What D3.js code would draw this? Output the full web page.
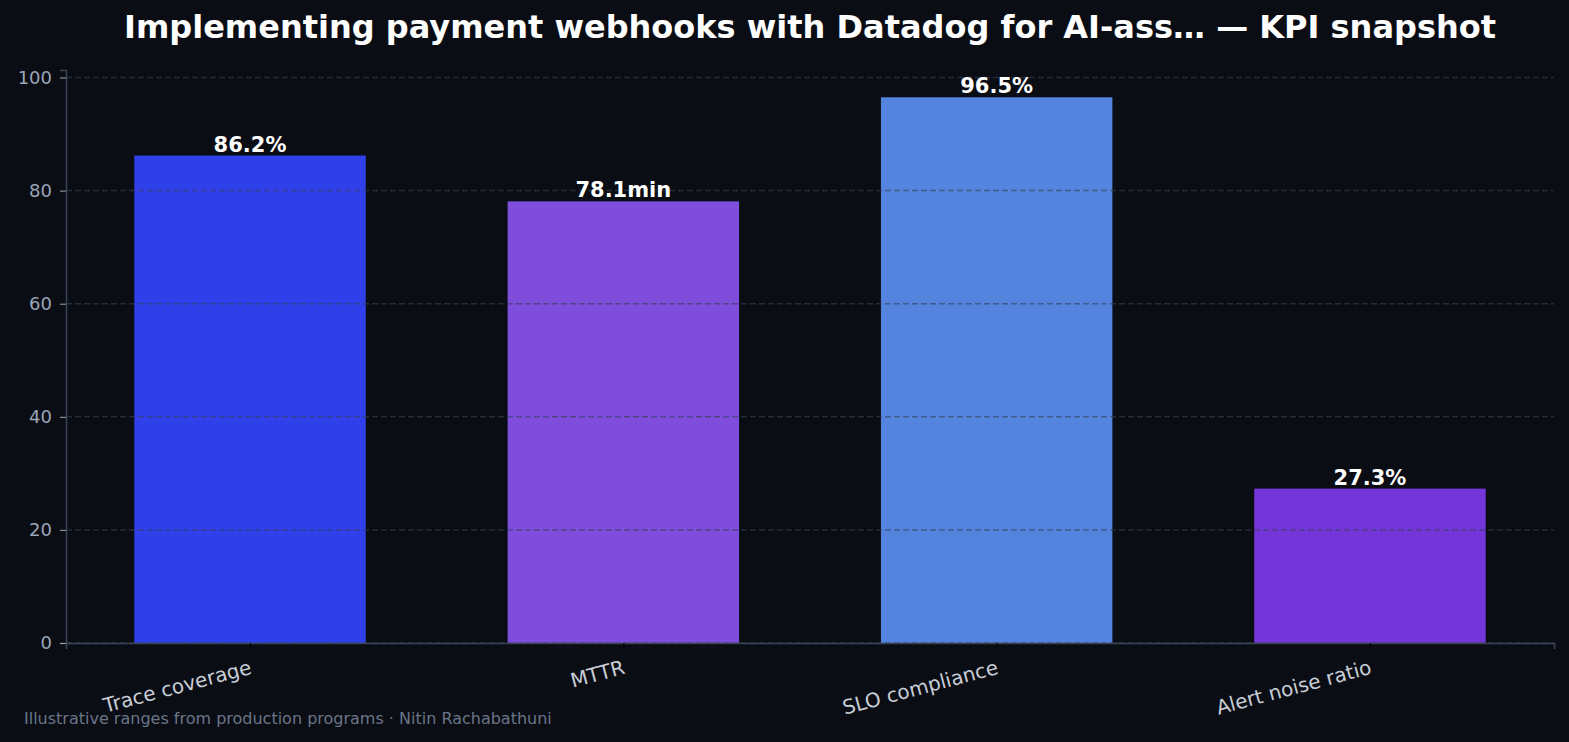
<!DOCTYPE html>
<html>
<head>
<meta charset="utf-8">
<script src="https://cdn.jsdelivr.net/npm/d3@7"></script>
<style>
  html, body { margin: 0; padding: 0; background: #0a0d14; }
  svg { display: block; font-family: "DejaVu Sans", sans-serif; }
</style>
</head>
<body>
<svg id="chart"></svg>
<script>
const categories = ['Trace coverage', 'MTTR', 'SLO compliance', 'Alert noise ratio'];
const values = [86.2, 78.1, 96.5, 27.3];
const valueLabels = ['86.2%', '78.1min', '96.5%', '27.3%'];
const barColors = ['#2f40eb', '#7e4ddb', '#5584df', '#7435d9'];
const yTicks = [0, 20, 40, 60, 80, 100];

const WIDTH = 1569;
const HEIGHT = 742;
const margin = { left: 66, right: 15, top: 70, bottom: 99 };

const svg = d3.select('#chart')
    .attr('width', WIDTH)
    .attr('height', HEIGHT);

svg.append('rect')
    .attr('width', WIDTH)
    .attr('height', HEIGHT)
    .attr('fill', '#0a0d14');

const x = d3.scaleLinear()
    .domain([-0.493, categories.length - 1 + 0.493])
    .range([margin.left, WIDTH - margin.right]);

const y = d3.scaleLinear()
    .domain([0, d3.max(values) * 1.05])
    .range([HEIGHT - margin.bottom, margin.top]);

const barWidth = 0.62;

// bars
svg.append('g')
    .selectAll('rect')
    .data(values)
    .join('rect')
    .attr('x', (d, i) => x(i - barWidth / 2))
    .attr('width', (d, i) => x(i + barWidth / 2) - x(i - barWidth / 2))
    .attr('y', d => y(d))
    .attr('height', d => y(0) - y(d))
    .attr('fill', (d, i) => barColors[i]);

// grid (drawn over the bars, semi-transparent)
svg.append('g')
    .selectAll('line')
    .data(yTicks)
    .join('line')
    .attr('x1', margin.left)
    .attr('x2', WIDTH - margin.right)
    .attr('y1', d => y(d))
    .attr('y2', d => y(d))
    .attr('stroke', '#334155')
    .attr('stroke-opacity', 0.6)
    .attr('stroke-width', 1.5)
    .attr('stroke-dasharray', '6,3');

// value labels
svg.append('g')
    .selectAll('text')
    .data(values)
    .join('text')
    .attr('x', (d, i) => x(i))
    .attr('y', d => y(d) - 4)
    .attr('text-anchor', 'middle')
    .attr('fill', '#ffffff')
    .attr('font-size', 21)
    .attr('font-weight', 'bold')
    .text((d, i) => valueLabels[i]);

// y axis
const yAxis = svg.append('g')
    .attr('transform', `translate(${margin.left},0)`)
    .call(d3.axisLeft(y).tickValues(yTicks).tickSize(6).tickPadding(8));
yAxis.select('.domain').attr('stroke', '#3a4556').attr('stroke-width', 1.5);
yAxis.selectAll('.tick line').attr('stroke', '#9aa5b8');
yAxis.selectAll('.tick text')
    .attr('fill', '#9aa5b8')
    .attr('font-size', 18)
    .attr('font-family', '"DejaVu Sans", sans-serif');

// x axis
const xAxis = svg.append('g')
    .attr('transform', `translate(0,${y(0)})`)
    .call(d3.axisBottom(x).tickValues(d3.range(categories.length)).tickSize(6).tickFormat(''));
xAxis.select('.domain').attr('stroke', '#3a4556').attr('stroke-width', 1.5);
xAxis.selectAll('.tick line').attr('stroke', '#000000');

xAxis.selectAll('.tick')
    .append('text')
    .attr('transform', 'translate(-2,15) rotate(-15)')
    .attr('text-anchor', 'end')
    .attr('dy', '0.8em')
    .attr('fill', '#c8cdd6')
    .attr('font-size', 20)
    .attr('font-family', '"DejaVu Sans", sans-serif')
    .text((d, i) => categories[i]);

// title
svg.append('text')
    .attr('x', 810)
    .attr('y', 38)
    .attr('text-anchor', 'middle')
    .attr('fill', '#ffffff')
    .attr('font-size', 32)
    .attr('font-weight', 'bold')
    .text('Implementing payment webhooks with Datadog for AI-ass\u2026 \u2014 KPI snapshot');

// footer
svg.append('text')
    .attr('x', 24)
    .attr('y', 724)
    .attr('fill', '#6b7588')
    .attr('font-size', 16)
    .text('Illustrative ranges from production programs \u00b7 Nitin Rachabathuni');
</script>
</body>
</html>
